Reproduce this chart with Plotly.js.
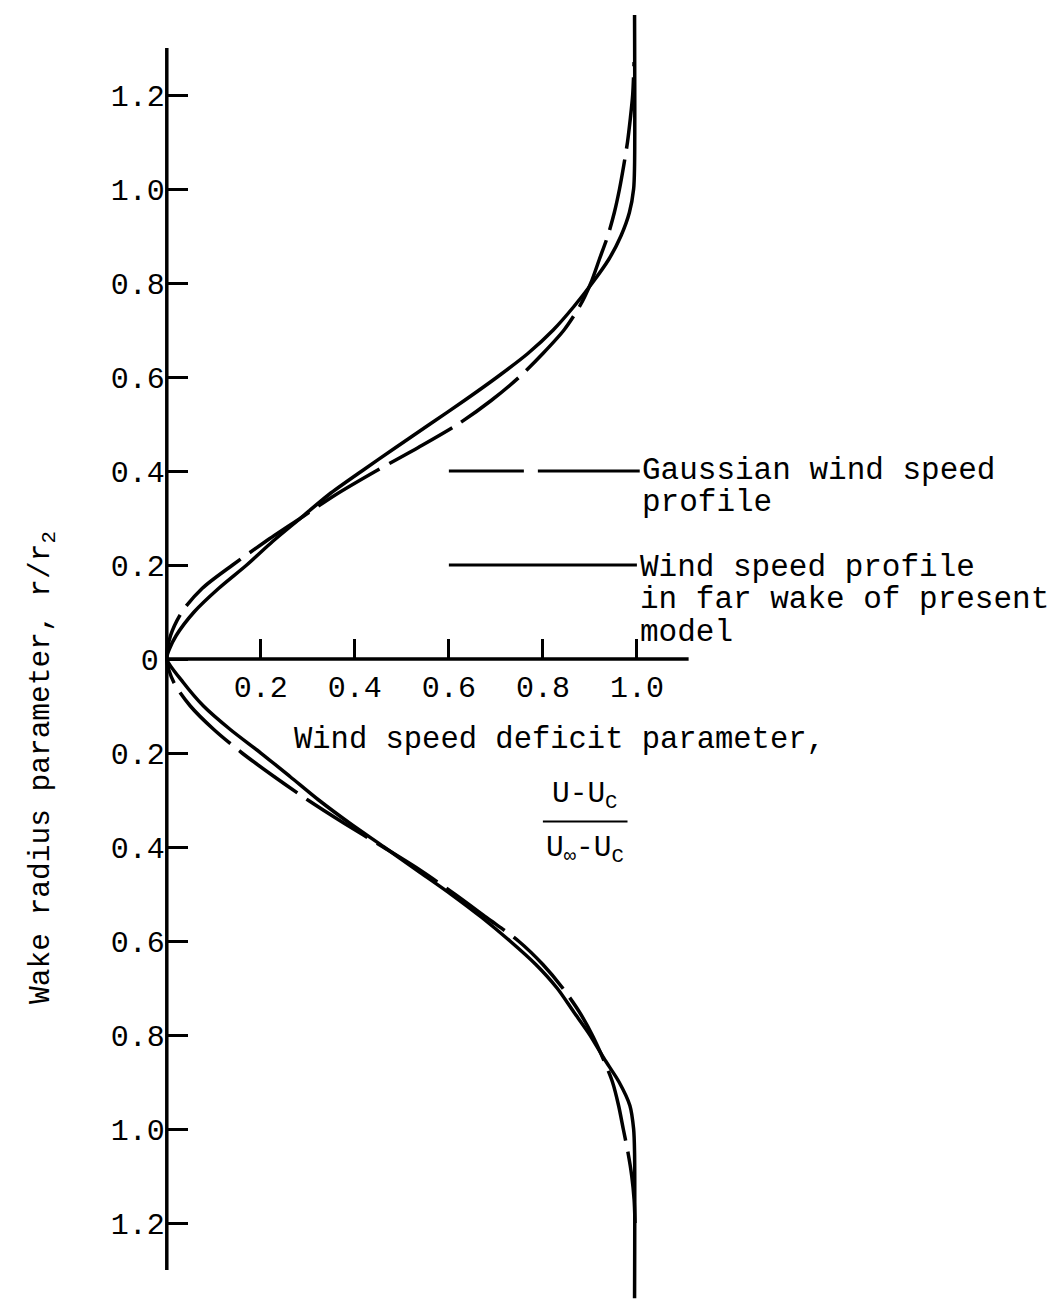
<!DOCTYPE html>
<html>
<head>
<meta charset="utf-8">
<script src="https://cdn.plot.ly/plotly-3.0.1.min.js"></script>
<style>
  html, body { margin: 0; padding: 0; background: #fff; }
  #chart { width: 1058px; height: 1301px; }
</style>
</head>
<body>
<div id="chart"></div>
<script>
// Wake radius r/r2 (negative = lower half of the wake) and wind speed deficit parameter.
// Gaussian wind speed profile (dashed)
const gaussTopR = [0, 0.05, 0.10, 0.15, 0.20, 0.25, 0.30, 0.35, 0.40, 0.45, 0.50, 0.55, 0.60, 0.65, 0.70, 0.75, 0.80, 0.85, 0.90, 0.95, 1.00, 1.05, 1.10, 1.15, 1.20, 1.27];
const gaussTopX = [0, 0.008, 0.032, 0.075, 0.14, 0.21, 0.285, 0.36, 0.445, 0.535, 0.62, 0.69, 0.75, 0.80, 0.845, 0.878, 0.902, 0.92, 0.938, 0.952, 0.963, 0.972, 0.98, 0.986, 0.991, 0.994];
const gaussBotR = [0, -0.05, -0.10, -0.15, -0.20, -0.25, -0.30, -0.35, -0.40, -0.45, -0.50, -0.55, -0.60, -0.65, -0.70, -0.75, -0.80, -0.85, -0.90, -0.95, -1.00, -1.05, -1.10, -1.15, -1.20];
const gaussBotX = [0, 0.015, 0.05, 0.10, 0.16, 0.228, 0.30, 0.378, 0.46, 0.54, 0.612, 0.68, 0.748, 0.80, 0.842, 0.877, 0.905, 0.928, 0.948, 0.961, 0.971, 0.981, 0.989, 0.994, 0.996];

// Wind speed profile in far wake of present model (solid)
const modelTopR = [0, 0.02, 0.05, 0.10, 0.15, 0.20, 0.25, 0.30, 0.35, 0.40, 0.45, 0.50, 0.55, 0.60, 0.65, 0.70, 0.75, 0.80, 0.85, 0.90, 0.95, 1.00, 1.05, 1.37];
const modelTopX = [0, 0.005, 0.02, 0.058, 0.11, 0.17, 0.225, 0.285, 0.345, 0.415, 0.487, 0.56, 0.633, 0.703, 0.768, 0.822, 0.866, 0.905, 0.94, 0.966, 0.984, 0.993, 0.995, 0.995];
const modelBotR = [0, -0.05, -0.10, -0.15, -0.20, -0.25, -0.30, -0.35, -0.40, -0.45, -0.50, -0.55, -0.60, -0.65, -0.70, -0.75, -0.80, -0.85, -0.90, -0.95, -1.00, -1.05, -1.36];
const modelBotX = [0, 0.035, 0.078, 0.135, 0.20, 0.262, 0.323, 0.39, 0.462, 0.533, 0.604, 0.67, 0.73, 0.785, 0.83, 0.865, 0.90, 0.93, 0.962, 0.985, 0.993, 0.995, 0.995];

// Axis ticks: radius labels are magnitudes on both sides of the centreline
const radiusTicks = [-1.2, -1.0, -0.8, -0.6, -0.4, -0.2, 0, 0.2, 0.4, 0.6, 0.8, 1.0, 1.2];
const radiusLabels = ['1.2', '1.0', '0.8', '0.6', '0.4', '0.2', '0\u2009', '0.2', '0.4', '0.6', '0.8', '1.0', '1.2'];
const deficitTicks = [0.2, 0.4, 0.6, 0.8, 1.0];
const deficitLabels = ['0.2', '0.4', '0.6', '0.8', '1.0'];

// Legend entries
const legendGauss = ['Gaussian wind speed', 'profile'];
const legendModel = ['Wind speed profile', 'in far wake of present', 'model'];

const FONT = 'Liberation Mono, Courier New, monospace';
const INK = '#000';

// join lower half (bottom -> centre) with upper half (centre -> top)
function joinHalves(botR, botX, topR, topX) {
  const r = botR.slice().reverse().concat(topR.slice(1));
  const x = botX.slice().reverse().concat(topX.slice(1));
  return { r, x };
}

const gauss = joinHalves(gaussBotR, gaussBotX, gaussTopR, gaussTopX);
const model = joinHalves(modelBotR, modelBotX, modelTopR, modelTopX);

const traces = [
  {
    x: model.x, y: model.r, type: 'scatter', mode: 'lines',
    line: { color: INK, width: 3.5, shape: 'spline', smoothing: 0.8 },
    hoverinfo: 'skip', showlegend: false
  },
  {
    x: gauss.x, y: gauss.r, type: 'scatter', mode: 'lines',
    line: { color: INK, width: 3.5, dash: '72px,11px', shape: 'spline', smoothing: 0.8 },
    hoverinfo: 'skip', showlegend: false
  }
];

// page geometry: 470 px per unit on both axes, origin at (167, 659)
const W = 1058, H = 1301, PX_PER_UNIT = 470, X0 = 167, Y0 = 659;
const xMin = -0.04;
const L = X0 + xMin * PX_PER_UNIT;
const plotW = W - L;
const xMax = xMin + plotW / PX_PER_UNIT;
const yTop = Y0 / PX_PER_UNIT;
const yBot = -(H - Y0) / PX_PER_UNIT;

const axisLine = { color: INK, width: 3.5 };
const shapes = [
  { type: 'line', xref: 'x', yref: 'y', x0: 0, x1: 0, y0: -1.3, y1: 1.3, line: axisLine },
  { type: 'line', xref: 'x', yref: 'y', x0: 0, x1: 1.11, y0: 0, y1: 0, line: axisLine },
  // legend keys
  { type: 'line', xref: 'x', yref: 'y', x0: 0.60, x1: 1.006, y0: 0.4, y1: 0.4,
    line: { color: INK, width: 3, dash: '75px,14px,130px,10px' } },
  { type: 'line', xref: 'x', yref: 'y', x0: 0.60, x1: 1.0, y0: 0.2, y1: 0.2,
    line: { color: INK, width: 3 } },
  // fraction bar
  { type: 'line', xref: 'x', yref: 'y', x0: 0.80, x1: 0.98, y0: -0.346, y1: -0.346,
    line: { color: INK, width: 2 } }
];

const txt = (text, x, y, opts) => Object.assign({
  text, x, y, xref: 'x', yref: 'y', showarrow: false,
  xanchor: 'left', yanchor: 'middle',
  font: { family: FONT, size: 31, color: INK }
}, opts || {});

const annotations = [
  txt(legendGauss[0], 1.006, 0.402),
  txt(legendGauss[1], 1.006, 0.332),
  txt(legendModel[0], 1.002, 0.194),
  txt(legendModel[1], 1.002, 0.126),
  txt(legendModel[2], 1.002, 0.057),
  txt('Wind speed deficit parameter,', 0.266, -0.172, { font: { family: FONT, size: 30.5, color: INK } }),
  txt('U-U<sub>C</sub>', 0.89, -0.29, { xanchor: 'center', font: { family: FONT, size: 29.5, color: INK } }),
  txt('U<sub>∞</sub>-U<sub>C</sub>', 0.89, -0.405, { xanchor: 'center', font: { family: FONT, size: 29.5, color: INK } }),
  {
    text: 'Wake radius parameter, r/r<sub>2</sub>',
    xref: 'paper', yref: 'y', x: (42 - L) / plotW, y: -0.23,
    xanchor: 'center', yanchor: 'middle', textangle: -90, showarrow: false,
    font: { family: FONT, size: 29.5, color: INK }
  }
];

const layout = {
  width: W, height: H,
  margin: { l: L, r: 0, t: 0, b: 0, pad: 0 },
  paper_bgcolor: '#fff', plot_bgcolor: '#fff',
  showlegend: false,
  xaxis: {
    range: [xMin, xMax], anchor: 'free', position: -yBot / (yTop - yBot),
    tickvals: deficitTicks, ticktext: deficitLabels,
    ticks: 'inside', ticklen: 20, tickwidth: 3, tickcolor: INK,
    showline: false, showgrid: false, zeroline: false,
    tickfont: { family: FONT, size: 30, color: INK },
    ticklabelstandoff: 7
  },
  yaxis: {
    range: [yBot, yTop], anchor: 'free', position: -xMin / (xMax - xMin),
    tickvals: radiusTicks, ticktext: radiusLabels,
    ticks: 'inside', ticklen: 20, tickwidth: 3, tickcolor: INK,
    showline: false, showgrid: false, zeroline: false,
    tickfont: { family: FONT, size: 30, color: INK },
    ticklabelstandoff: 2
  },
  shapes, annotations
};

Plotly.newPlot('chart', traces, layout, { staticPlot: true, displayModeBar: false });
</script>
</body>
</html>
